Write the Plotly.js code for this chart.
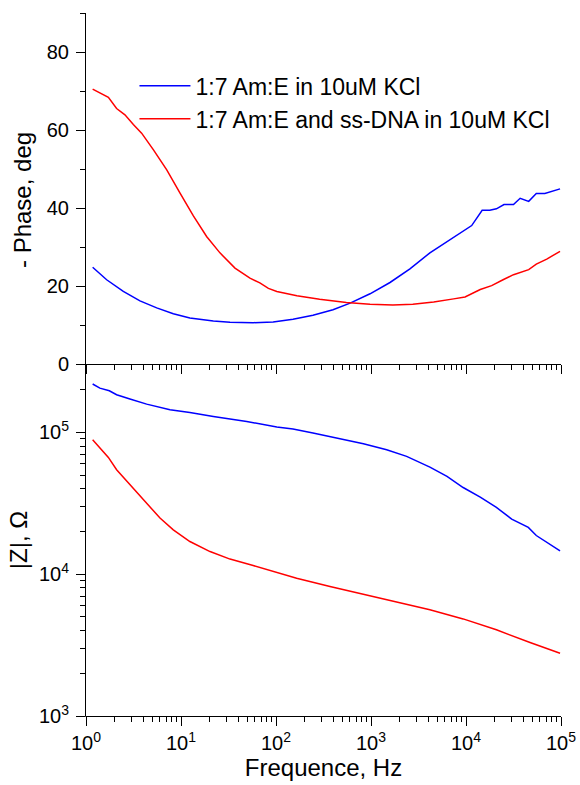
<!DOCTYPE html>
<html>
<head>
<meta charset="utf-8">
<script src="https://cdn.plot.ly/plotly-3.0.1.min.js"></script>
<style>html,body{margin:0;padding:0;background:#fff;}#chart{width:580px;height:785px;}</style>
</head>
<body>
<div id="chart"></div>
<script>
// Phase data (frequency in Hz, -phase in degrees)
const freqBluePhase = [1.175, 1.65, 2.47, 3.70, 5.55, 8.30, 12.4, 21.9, 32.8, 57.5, 93.3, 151, 245, 398, 603, 977, 1585, 2570, 4169, 6310, 9333, 11482, 14791, 17783, 20893, 25119, 31623, 37154, 45709, 54954, 67608, 97724];
const phaseBlue = [24.8, 21.6, 18.6, 16.2, 14.4, 12.9, 11.8, 11.0, 10.7, 10.6, 10.8, 11.5, 12.5, 13.9, 15.6, 18.0, 20.9, 24.4, 28.5, 31.4, 34.2, 35.5, 39.4, 39.4, 39.8, 40.9, 40.9, 42.5, 41.7, 43.7, 43.7, 44.9];
const freqRedPhase = [1.175, 1.40, 1.72, 2.10, 2.57, 3.15, 3.85, 5.13, 7.08, 9.77, 13.5, 18.6, 25.7, 37.0, 53.2, 67.6, 83.2, 102, 166, 288, 550, 977, 1698, 2754, 4571, 7413, 9772, 14125, 18621, 24547, 31623, 45709, 54954, 70795, 97724];
const phaseRed = [70.5, 69.6, 68.4, 65.5, 63.9, 61.4, 59.2, 54.9, 49.8, 43.8, 38.0, 32.7, 28.5, 24.6, 22.0, 20.8, 19.4, 18.6, 17.5, 16.6, 15.8, 15.3, 15.1, 15.3, 15.9, 16.7, 17.2, 19.1, 20.1, 21.6, 22.9, 24.2, 25.6, 26.9, 28.9];

// Impedance modulus data (frequency in Hz, |Z| in Ohm)
const freqBlueZ = [1.175, 1.40, 1.76, 2.10, 2.90, 4.35, 7.66, 12.4, 21.9, 49.2, 102, 151, 245, 436, 832, 1462, 2371, 4169, 6310, 9333, 14125, 20893, 30270, 45290, 54954, 97724];
const zBlue = [219800, 205600, 196800, 184500, 172200, 158500, 144500, 138400, 129700, 119700, 109100, 105700, 99100, 91200, 83200, 75500, 67800, 57000, 49000, 40900, 35000, 29600, 24500, 21400, 18750, 14620];
const freqRedZ = [1.175, 1.72, 2.10, 3.15, 4.35, 6.01, 8.30, 12.4, 20.2, 32.8, 57.5, 86.5, 165, 370, 830, 1862, 4169, 9333, 20893, 47210, 97724];
const zRed = [88700, 66700, 54600, 40600, 31800, 24900, 20560, 17020, 14450, 12790, 11510, 10620, 9380, 8180, 7240, 6410, 5610, 4840, 4055, 3296, 2773];

const seriesNames = ["1:7 Am:E in 10uM KCl", "1:7 Am:E and ss-DNA in 10uM KCl"];
const xTickVals = [1, 10, 100, 1000, 10000, 100000];
const xTickText = ["10<sup>0</sup>", "10<sup>1</sup>", "10<sup>2</sup>", "10<sup>3</sup>", "10<sup>4</sup>", "10<sup>5</sup>"];
const zTickVals = [1000, 10000, 100000];
const zTickText = ["10<sup>3</sup>", "10<sup>4</sup>", "10<sup>5</sup>"];

const FONT = "Arial, 'Liberation Sans', sans-serif";
const BLUE = "#0000ff", RED = "#ff0000";

const traces = [
  {x: freqBluePhase, y: phaseBlue, xaxis: "x", yaxis: "y", mode: "lines", name: seriesNames[0], line: {color: BLUE, width: 1.5}},
  {x: freqRedPhase, y: phaseRed, xaxis: "x", yaxis: "y", mode: "lines", name: seriesNames[1], line: {color: RED, width: 1.5}},
  {x: freqBlueZ, y: zBlue, xaxis: "x2", yaxis: "y2", mode: "lines", name: seriesNames[0], showlegend: false, line: {color: BLUE, width: 1.5}},
  {x: freqRedZ, y: zRed, xaxis: "x2", yaxis: "y2", mode: "lines", name: seriesNames[1], showlegend: false, line: {color: RED, width: 1.5}}
];

const split = 352 / 703;
const common = {
  ticks: "outside", ticklen: 9, tickcolor: "#000",
  showgrid: false,
  tickfont: {family: FONT, size: 20, color: "#000"}
};
function minorTicks(dtick) {
  return {ticks: "outside", ticklen: 5, tickcolor: "#000", dtick: dtick};
}
const frameLine = {color: "#000", width: 1};

const layout = {
  width: 580, height: 785,
  margin: {l: 86, r: 19, t: 13, b: 69},
  paper_bgcolor: "#fff", plot_bgcolor: "#fff",
  font: {family: FONT, color: "#000"},
  showlegend: true,
  legend: {
    x: 0.102, y: 0.927, xanchor: "left", yanchor: "top",
    bgcolor: "rgba(0,0,0,0)", borderwidth: 0,
    font: {family: FONT, size: 23, color: "#000"},
    itemwidth: 51, tracegroupgap: 0
  },
  xaxis: Object.assign({}, common, {
    type: "log", range: [0, 5], domain: [0, 1], anchor: "y",
    tickmode: "array", tickvals: xTickVals, ticktext: xTickText, showticklabels: false,
    minor: minorTicks("D1")
  }),
  yaxis: Object.assign({}, common, {
    domain: [split, 1], anchor: "x", range: [0, 90],
    tickmode: "linear", tick0: 0, dtick: 20,
    minor: minorTicks(10),
    ticklabelstandoff: 3
  }),
  xaxis2: Object.assign({}, common, {
    type: "log", range: [0, 5], domain: [0, 1], anchor: "y2",
    tickmode: "array", tickvals: xTickVals, ticktext: xTickText,
    minor: minorTicks("D1"),
    title: {text: "Frequence, Hz", font: {family: FONT, size: 24, color: "#000"}, standoff: 6}
  }),
  yaxis2: Object.assign({}, common, {
    type: "log", domain: [0, split], anchor: "x2", range: [3, 5.483],
    tickmode: "array", tickvals: zTickVals, ticktext: zTickText,
    minor: minorTicks("D1"),
    ticklabelstandoff: 3,
    title: {text: "|Z|, Ω", font: {family: FONT, size: 24, color: "#000"}, standoff: 4}
  }),
  // axis frame lines (left spine, panel separator, bottom axis)
  shapes: [
    {type: "line", xref: "paper", yref: "paper", x0: -0.5 / 475, x1: -0.5 / 475, y0: -0.5 / 703, y1: 1, line: frameLine},
    {type: "line", xref: "paper", yref: "paper", x0: -0.5 / 475, x1: 1, y0: (352 - 0.5) / 703, y1: (352 - 0.5) / 703, line: frameLine},
    {type: "line", xref: "paper", yref: "paper", x0: -0.5 / 475, x1: 1, y0: -0.5 / 703, y1: -0.5 / 703, line: frameLine}
  ],
  annotations: [{
    text: "- Phase, deg", xref: "paper", yref: "paper",
    x: -64 / 475, y: (716 - 200) / 703, xanchor: "center", yanchor: "middle",
    textangle: -90, showarrow: false,
    font: {family: FONT, size: 24, color: "#000"}
  }]
};

Plotly.newPlot("chart", traces, layout, {displayModeBar: false, staticPlot: true});
</script>
</body>
</html>
